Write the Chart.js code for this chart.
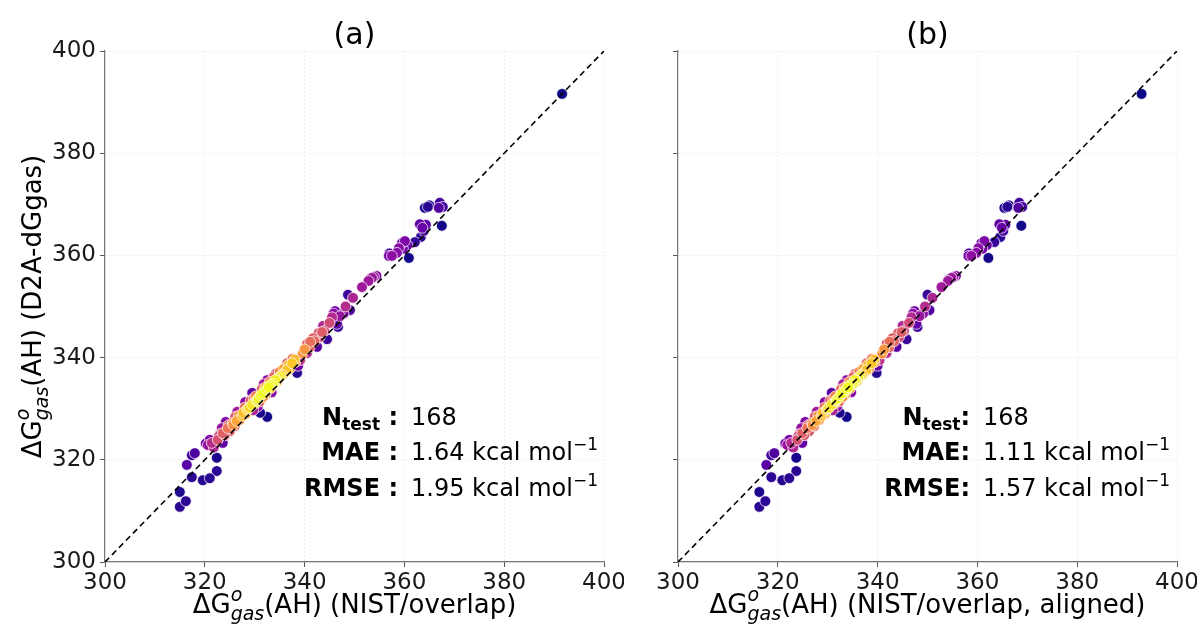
<!DOCTYPE html>
<html>
<head>
<meta charset="utf-8">
<script src="https://cdn.jsdelivr.net/npm/chart.js@4.4.1/dist/chart.umd.min.js"></script>
<style>
  html, body { margin: 0; padding: 0; background: #fff; }
  #wrap { position: relative; width: 1203px; height: 631px; }
  canvas { position: absolute; top: 0; }
  #chartA { left: 0; }
  #chartB { left: 624px; }
</style>
</head>
<body>
<div id="wrap">
  <canvas id="chartA" width="624" height="631"></canvas>
  <canvas id="chartB" width="573" height="631"></canvas>
</div>
<script>
// Data
// predicted dGgas (D2A-dGgas), shared by both panels
const predicted = [
  310.8,311.9,313.7,319.0,320.9,321.3,316.6,316.0,316.4,317.8,
  320.4,322.9,323.9,323.3,323.9,323.3,325.2,326.2,326.2,326.8,
  328.4,329.4,329.2,331.3,330.1,329.7,329.2,328.4,333.1,331.7,
  332.3,334.1,334.6,335.6,335.6,337.6,338.9,338.9,339.1,337.0,
  339.5,338.4,340.9,342.7,343.8,342.1,343.1,343.6,345.0,346.2,
  346.0,346.6,347.9,348.1,349.1,349.3,352.3,351.7,353.8,355.6,
  355.8,355.4,359.9,359.9,360.5,361.4,361.3,362.8,362.4,359.5,
  362.6,363.6,364.8,366.1,366.0,365.8,369.3,369.5,370.3,369.3,
  369.5,391.6,
  327.8,328.6,329.0,330.2,330.8,331.0,331.6,332.0,332.6,333.0,
  333.2,333.8,334.2,334.0,334.8,335.0,335.6,336.0,336.4,336.6,
  337.0,337.4,337.8,332.4,331.4,332.8,335.2,335.4,337.8,331.6,
  329.8,328.6,327.2,326.8,339.6,340.8,342.0,343.2,344.0,345.2,
  334.8,333.2,330.4,336.8,322.4,324.6,324.8,327.4,325.6,326.6,
  346.8,348.6,348.6,350.0,
  355.0,356.0,360.4,362.0,365.4,369.8,341.6,344.8,338.6,339.8,
  333.8,336.2,337.2,332.0,330.2,327.6,325.0,323.2
];

// panel (a): NIST/overlap reference values
const nistOverlap = [
  315.0,316.2,315.0,316.4,317.4,318.0,317.4,319.6,321.0,322.4,
  322.4,320.6,321.0,321.4,322.6,323.6,323.6,323.4,324.6,325.7,
  326.1,326.5,327.7,328.1,328.7,329.7,331.1,332.5,329.5,330.5,
  331.7,332.1,333.1,332.5,334.1,336.5,336.5,337.5,338.1,338.5,
  339.1,338.7,340.5,340.5,341.7,342.5,341.1,344.5,343.5,343.7,
  346.7,346.5,345.5,347.1,346.1,349.1,348.7,349.7,351.5,353.5,
  353.9,353.1,356.9,357.5,358.5,358.9,359.7,360.1,359.5,360.9,
  362.1,363.3,363.9,363.1,364.3,367.5,364.1,364.7,367.1,366.9,
  367.7,391.6,
  327.0,327.5,328.2,329.0,329.5,330.0,330.4,330.8,331.2,331.6,
  332.0,332.4,332.8,333.2,333.6,334.0,334.4,334.8,335.2,335.6,
  336.0,336.4,337.0,330.2,331.0,332.2,333.0,334.6,335.8,329.2,
  328.5,326.8,325.6,324.8,338.0,339.6,341.0,342.0,343.0,344.0,
  331.8,333.4,330.6,334.2,321.8,322.8,324.0,324.2,325.0,326.0,
  345.0,347.8,345.8,348.2,
  352.8,354.4,357.0,360.6,363.6,365.0,340.0,342.8,336.8,337.6,
  331.4,333.8,335.0,329.8,328.0,326.4,323.0,320.2
];

// panel (b): NIST/overlap, aligned
const nistAligned = [
  316.3,317.5,316.3,317.7,318.7,319.3,318.7,320.9,322.3,323.7,
  323.7,321.9,322.3,322.7,323.9,324.9,324.9,324.7,325.9,327.0,
  327.4,327.8,329.0,329.4,330.0,331.0,332.4,333.8,330.8,331.8,
  333.0,333.4,334.4,333.8,335.4,337.8,337.8,338.8,339.4,339.8,
  340.4,340.0,341.8,341.8,343.0,343.8,342.4,345.8,344.8,345.0,
  348.0,347.8,346.8,348.4,347.4,350.4,350.0,351.0,352.8,354.8,
  355.2,354.4,358.2,358.8,359.8,360.2,361.0,361.4,360.8,362.2,
  363.4,364.6,365.2,364.4,365.6,368.8,365.4,366.0,368.4,368.2,
  369.0,392.9,
  328.3,328.8,329.5,330.3,330.8,331.3,331.7,332.1,332.5,332.9,
  333.3,333.7,334.1,334.5,334.9,335.3,335.7,336.1,336.5,336.9,
  337.3,337.7,338.3,331.5,332.3,333.5,334.3,335.9,337.1,330.5,
  329.8,328.1,326.9,326.1,339.3,340.9,342.3,343.3,344.3,345.3,
  333.1,334.7,331.9,335.5,323.1,324.1,325.3,325.5,326.3,327.3,
  346.3,349.1,347.1,349.5,
  354.1,355.7,358.3,361.9,364.9,366.3,341.3,344.1,338.1,338.9,
  332.7,335.1,336.3,331.1,329.3,327.7,324.3,321.5
];

const tickValues = [300, 320, 340, 360, 380, 400];
const statsA = { n: '168', mae: '1.64', rmse: '1.95' };
const statsB = { n: '168', mae: '1.11', rmse: '1.57' };

// plasma colormap stops
const plasma = ['#0d0887','#41049d','#6a00a8','#8f0da4','#b12a90','#cc4778',
                '#e16462','#f2844b','#fca636','#fcce25','#f0f921'];

function hexToRgb(h) {
  return [parseInt(h.slice(1,3),16), parseInt(h.slice(3,5),16), parseInt(h.slice(5,7),16)];
}
function plasmaColor(t) {
  t = Math.max(0, Math.min(1, t));
  const p = t * (plasma.length - 1);
  const i = Math.min(Math.floor(p), plasma.length - 2);
  const f = p - i;
  const a = hexToRgb(plasma[i]), b = hexToRgb(plasma[i + 1]);
  const c = a.map((v, k) => Math.round(v + (b[k] - v) * f));
  return `rgb(${c[0]},${c[1]},${c[2]})`;
}

// gaussian kde (scott bandwidth, full covariance) -> point colours
function densityOrder(xs, ys) {
  const n = xs.length;
  const mx = xs.reduce((s, v) => s + v, 0) / n;
  const my = ys.reduce((s, v) => s + v, 0) / n;
  let sxx = 0, syy = 0, sxy = 0;
  for (let i = 0; i < n; i++) {
    sxx += (xs[i] - mx) ** 2; syy += (ys[i] - my) ** 2; sxy += (xs[i] - mx) * (ys[i] - my);
  }
  const f2 = Math.pow(n, -1 / 3);
  const a = sxx / (n - 1) * f2, b = sxy / (n - 1) * f2, d = syy / (n - 1) * f2;
  const det = a * d - b * b;
  const ia = d / det, ib = -b / det, id = a / det;
  const dens = [];
  for (let i = 0; i < n; i++) {
    let s = 0;
    for (let j = 0; j < n; j++) {
      const dx = xs[i] - xs[j], dy = ys[i] - ys[j];
      s += Math.exp(-0.5 * (dx * dx * ia + 2 * dx * dy * ib + dy * dy * id));
    }
    dens.push(s);
  }
  const lo = Math.min(...dens), hi = Math.max(...dens);
  const idx = dens.map((v, i) => i).sort((p, q) => dens[p] - dens[q]);
  return idx.map(i => ({ x: xs[i], y: ys[i], c: plasmaColor((dens[i] - lo) / (hi - lo)) }));
}

const FONT = 'DejaVu Sans';

function drawRich(ctx, parts, x, y, align) {
  let w = 0;
  parts.forEach(p => { ctx.font = p.font; if (!p.stay) w += ctx.measureText(p.t).width; });
  let cx = align === 'center' ? x - w / 2 : align === 'right' ? x - w : x;
  parts.forEach(p => {
    ctx.font = p.font;
    ctx.fillText(p.t, cx, y + (p.dy || 0));
    if (!p.stay) cx += ctx.measureText(p.t).width;
  });
}

function axisLabel(rest) {
  return [
    { t: 'ΔG', font: `26px "${FONT}"` },
    { t: 'o', font: `italic 19px "${FONT}"`, dy: -12, stay: true },
    { t: 'gas', font: `italic 19px "${FONT}"`, dy: 7 },
    { t: rest, font: `26px "${FONT}"` }
  ];
}

const textPlugin = {
  id: 'panelText',
  afterDraw(chart, args, opts) {
    const ctx = chart.ctx;
    const area = chart.chartArea;
    const cxm = (area.left + area.right) / 2;
    ctx.save();
    ctx.fillStyle = '#000';
    ctx.textAlign = 'left';
    ctx.textBaseline = 'alphabetic';

    // title
    ctx.font = `30px "${FONT}"`;
    const tw = ctx.measureText(opts.title).width;
    ctx.fillText(opts.title, cxm - tw / 2, 44);

    // x axis label
    drawRich(ctx, axisLabel(opts.xLabel), cxm, 613, 'center');

    // y axis label
    if (opts.yLabel) {
      ctx.save();
      ctx.translate(41, (area.top + area.bottom) / 2);
      ctx.rotate(-Math.PI / 2);
      drawRich(ctx, axisLabel(opts.yLabel), 0, 0, 'center');
      ctx.restore();
    }

    // stats box
    const lx = opts.statsX, vx = opts.statsX + 13;
    const colon = opts.colon;
    const rows = [
      { lab: [{ t: 'N', font: `bold 24px "${FONT}"` }, { t: 'test', font: `bold 17px "${FONT}"`, dy: 5 }, { t: colon, font: `bold 24px "${FONT}"` }],
        val: [{ t: opts.stats.n, font: `24px "${FONT}"` }] },
      { lab: [{ t: 'MAE' + colon, font: `bold 24px "${FONT}"` }],
        val: [{ t: opts.stats.mae + ' kcal mol', font: `24px "${FONT}"` }, { t: '−1', font: `17px "${FONT}"`, dy: -10 }] },
      { lab: [{ t: 'RMSE' + colon, font: `bold 24px "${FONT}"` }],
        val: [{ t: opts.stats.rmse + ' kcal mol', font: `24px "${FONT}"` }, { t: '−1', font: `17px "${FONT}"`, dy: -10 }] }
    ];
    const ys = [425, 460, 496];
    rows.forEach((r, i) => {
      drawRich(ctx, r.lab, lx, ys[i], 'right');
      drawRich(ctx, r.val, vx, ys[i], 'left');
    });
    ctx.restore();
  }
};

function makePanel(id, xs, cfg) {
  const pts = densityOrder(xs, predicted);
  const ctx = document.getElementById(id).getContext('2d');
  return new Chart(ctx, {
    type: 'scatter',
    data: {
      datasets: [
        {
          type: 'line',
          data: [{ x: 300, y: 300 }, { x: 400, y: 400 }],
          borderColor: '#000',
          borderWidth: 1.6,
          borderDash: [6, 4],
          pointRadius: 0,
          fill: false,
          order: 0
        },
        {
          data: pts.map(p => ({ x: p.x, y: p.y })),
          backgroundColor: pts.map(p => p.c),
          borderColor: 'rgba(255,255,255,0.9)',
          borderWidth: 0.8,
          pointRadius: 5.4,
          order: 1
        }
      ]
    },
    options: {
      responsive: false,
      devicePixelRatio: 1,
      animation: false,
      layout: { padding: { left: 0, right: 20, top: 51, bottom: 0 } },
      plugins: {
        legend: { display: false },
        tooltip: { enabled: false },
        panelText: cfg
      },
      scales: {
        x: {
          type: 'linear', min: 300, max: 400,
          afterBuildTicks: s => { s.ticks = tickValues.map(v => ({ value: v })); },
          afterFit: s => { s.height = 69; s.paddingLeft = 0; s.paddingRight = 0; },
          ticks: { font: { family: FONT, size: 23 }, color: '#1a1a1a', padding: 2, maxRotation: 0 },
          grid: { color: 'rgba(0,0,0,0.09)', lineWidth: 0.8, tickLength: 5, tickColor: '#555', tickWidth: 1 },
          border: { color: '#777', width: 1.2, dash: [2, 2] }
        },
        y: {
          type: 'linear', min: 300, max: 400,
          afterBuildTicks: s => { s.ticks = tickValues.map(v => ({ value: v })); },
          afterFit: s => { s.width = cfg.yWidth; s.paddingTop = 0; s.paddingBottom = 0; },
          ticks: { display: cfg.yTicks, font: { family: FONT, size: 23 }, color: '#1a1a1a', padding: 4 },
          grid: { color: 'rgba(0,0,0,0.09)', lineWidth: 0.8, tickLength: 5, tickColor: '#555', tickWidth: 1 },
          border: { color: '#777', width: 1.2, dash: [2, 2] }
        }
      }
    },
    plugins: [textPlugin]
  });
}

makePanel('chartA', nistOverlap, {
  title: '(a)', xLabel: '(AH) (NIST/overlap)', yLabel: '(AH) (D2A-dGgas)',
  stats: statsA, statsX: 398, colon: ' :', yWidth: 105, yTicks: true
});
makePanel('chartB', nistAligned, {
  title: '(b)', xLabel: '(AH) (NIST/overlap, aligned)', yLabel: null,
  stats: statsB, statsX: 970 - 624, colon: ':', yWidth: 54, yTicks: false
});
</script>
</body>
</html>
